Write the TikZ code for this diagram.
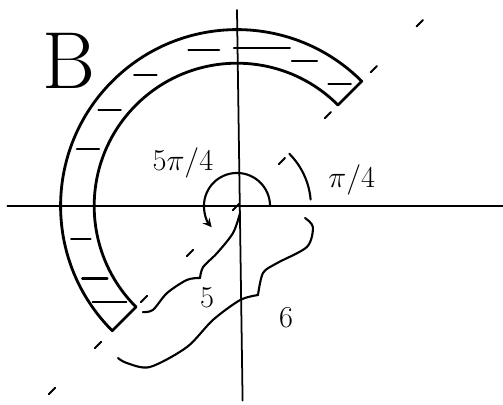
\documentclass[tikz,border=0pt]{standalone}
\usepackage{amsmath,amssymb}
\usepackage{tikz}

\begin{document}
\begin{tikzpicture}[x=0.56cm,y=0.56cm,>=stealth,line cap=round,line join=round,
    pen/.style={line width=1.2pt},
    lbl/.style={font=\LARGE,inner sep=1pt}]
  \useasboundingbox (-8.464,-7.107) rectangle (9.5,7.357);
  % axes
  \draw[line width=1pt] (-8.2,0) -- (9.5,0);
  \draw[line width=1pt] (0,7.0) -- (0.2,-6.95);
  % the ray theta = pi/4
  \draw[pen,dash pattern=on 5pt off 32pt] (225:9.5) -- (45:10.4);

  % region B
  \draw[line width=1.6pt] (45:5.1) arc[start angle=45,end angle=225,radius=5.1]
    -- (225:6.3) arc[start angle=225,end angle=45,radius=6.3] -- cycle;
  \foreach \a/\l in {50/0.8,65/0.9,81/2.0,102/1.1,125/0.8,143/0.8,159/0.8,192/0.7,207/0.9,217/1.2}
    \draw[pen] (\a:5.7) ++(-\l/2,0) -- ++(\l,0);
  \node (lblB) at (-6.0,5.2) {\fontsize{46}{46}\selectfont B};

  % angles
  \draw[->,pen] (1.18,0) arc[start angle=0,end angle=220,radius=1.18];
  \draw[pen] (5:2.64) arc[start angle=5,end angle=45,radius=2.64];
  \node[lbl] (lblbig) at (-1.93,1.54) {$5\pi/4$};
  \node[lbl] (lblsmall) at (4.1,0.93) {$\pi/4$};

  % radii
  \draw[pen] plot[smooth] coordinates {(0.11,-0.25) (-0.14,-0.96) (-0.71,-1.68) (-1.21,-2.18) (-1.32,-2.57)};
  \draw[pen] plot[smooth] coordinates {(-1.32,-2.57) (-1.79,-2.64) (-2.5,-3.11) (-3.0,-3.71) (-3.36,-3.79)};
  \node[lbl] (lblfive) at (-1.07,-3.29) {$5$};
  \draw[pen] plot[smooth] coordinates {(2.43,-0.43) (2.71,-0.75) (2.5,-1.46) (1.43,-2.04) (0.93,-2.39) (0.75,-3.18)};
  \draw[pen] plot[smooth] coordinates {(0.75,-3.18) (0.11,-3.36) (-0.86,-4.07) (-1.79,-5.04) (-3.11,-5.75) (-3.93,-5.61) (-4.25,-5.43)};
  \node[lbl] (lblsix) at (1.75,-4.0) {$6$};
\end{tikzpicture}
\end{document}
